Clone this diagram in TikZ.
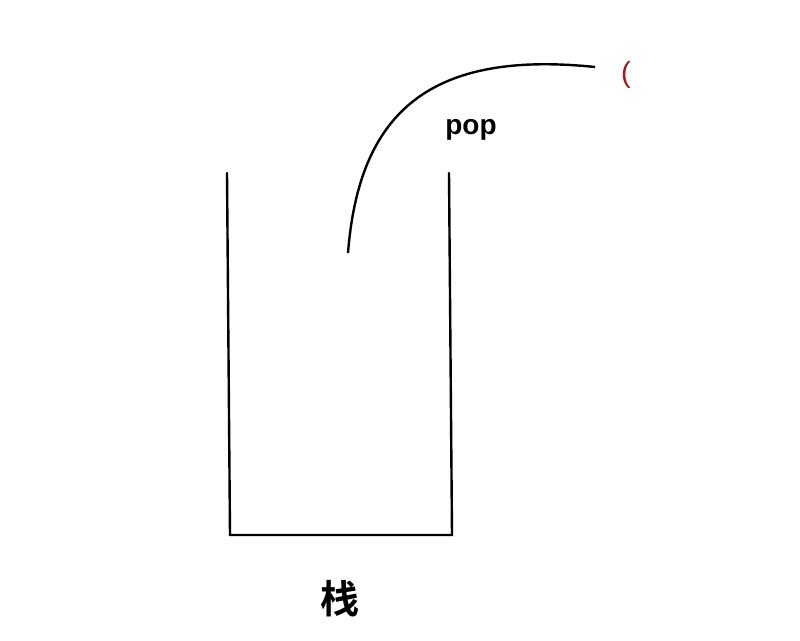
\documentclass[tikz,border=0pt]{standalone}
\usepackage{fontspec}
\setmainfont{Liberation Sans}
\newfontfamily\cjk{Noto Sans CJK SC}[BoldFont={* Bold}]
\definecolor{parred}{RGB}{160,24,24}
\tikzset{
  wall/.style={line width=2.4pt, line cap=round},
  popcurve/.style={line width=2.4pt},
  lbl/.style={inner sep=0pt, anchor=center}
}
\begin{document}
\begin{tikzpicture}[x=1pt,y=-1pt]
\useasboundingbox[fill=white] (0,0) rectangle (800,640);
\coordinate (tl) at (227,173);
\coordinate (bl) at (230,535);
\coordinate (br) at (452,535);
\coordinate (tr) at (449,173);
\draw[wall] (tl) -- (bl) -- (br) -- (tr);
\coordinate (cs) at (348,253);
\coordinate (ce) at (595,67);
\draw[popcurve] (cs) .. controls (359,112) and (430,50) .. (ce);
\node[lbl, font=\bfseries\fontsize{28}{30}\selectfont] (pop) at (471,130) {pop};
\node[lbl, text=parred, font=\fontsize{29}{32}\selectfont] (par) at (626,75) {(};
\node[lbl, font=\cjk\bfseries\fontsize{39}{42}\selectfont] (zhan) at (340,599) {栈};
\end{tikzpicture}
\end{document}
